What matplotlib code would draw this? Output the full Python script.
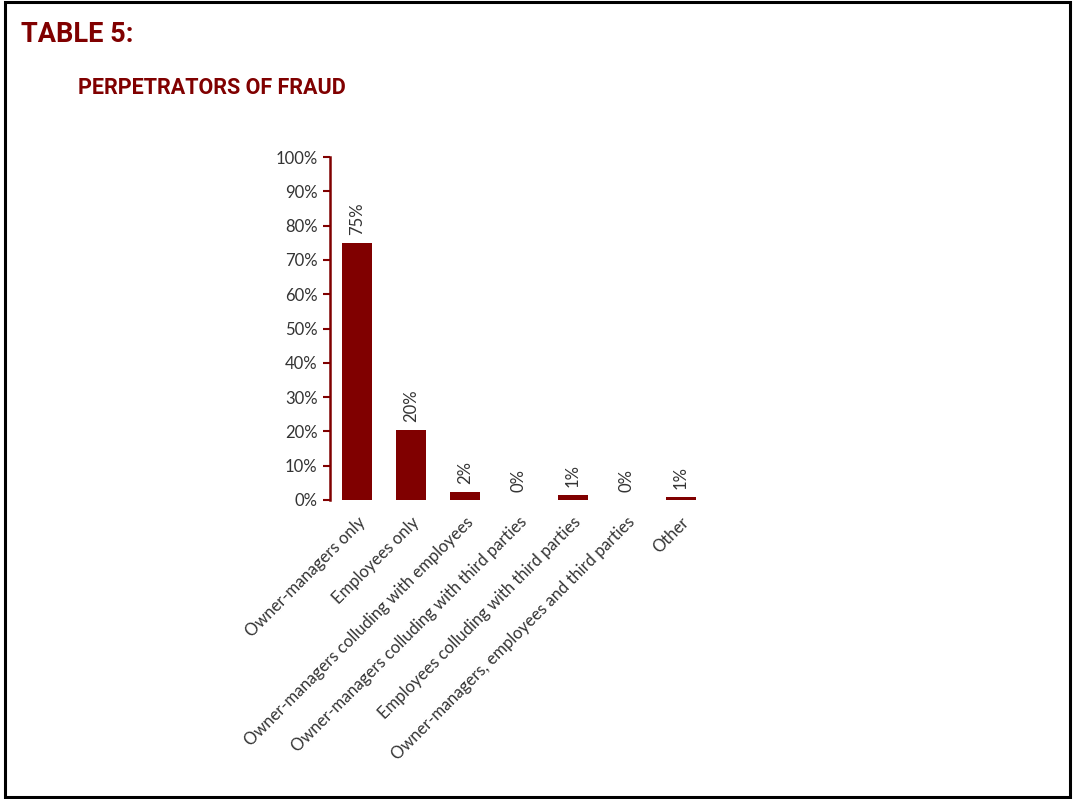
import numpy as np
import matplotlib
matplotlib.use('Agg')
from matplotlib import pyplot as plt
from matplotlib.patches import Rectangle

categories = [
    'Owner-managers only',
    'Employees only',
    'Owner-managers colluding with employees',
    'Owner-managers colluding with third parties',
    'Employees colluding with third parties',
    'Owner-managers, employees and third parties',
    'Other',
]
shares = [75.0, 20.3, 2.3, 0.0, 1.4, 0.0, 0.9]
y_ticks = list(range(0, 101, 10))

RED = '#800000'
GREY = '#333333'

plt.rcParams['font.family'] = ['Lato', 'DejaVu Sans']

fig = plt.figure(figsize=(10.75, 7.99), dpi=100)
fig.patch.set_facecolor('white')

# frame around the whole panel
fig.add_artist(Rectangle((0.0045, 0.0025), 0.9905, 0.9945, transform=fig.transFigure,
                         fill=False, edgecolor='black', linewidth=2.2))

head_font = ['Roboto', 'DejaVu Sans']
fig.text(21 / 1075, 1 - 34 / 799, 'TABLE 5:', color=RED, fontsize=19.5,
         fontweight='bold', family=head_font, va='center', ha='left')
fig.text(78 / 1075, 1 - 88 / 799, 'PERPETRATORS OF FRAUD', color=RED, fontsize=15.5,
         fontweight='bold', family=head_font, va='center', ha='left')

axes = fig.add_axes([330 / 1075, 1 - 500 / 799, 378 / 1075, 343 / 799])
x = np.arange(len(categories))
bars = axes.bar(x, shares, width=0.54, color=RED)

for xi, v in zip(x, shares):
    axes.text(xi, v + 2.3, '{:.0f}%'.format(v), rotation=90, ha='center', va='bottom',
              fontsize=12, color=GREY)

axes.set_xlim(-0.5, len(categories) - 0.5)
axes.set_ylim(0, 100)
axes.set_yticks(y_ticks)
axes.set_yticklabels(['{}%'.format(t) for t in y_ticks], fontsize=12, color=GREY)
axes.set_xticks(x)
axes.set_xticklabels(categories, rotation=45, ha='right', rotation_mode='anchor',
                     fontsize=12, color=GREY)
axes.tick_params(axis='x', length=0, pad=10)
axes.tick_params(axis='y', length=5, width=1.5, color=RED, pad=4)

for side in ['top', 'right', 'bottom']:
    axes.spines[side].set_visible(False)
axes.spines['left'].set_color(RED)
axes.spines['left'].set_linewidth(1.8)
axes.patch.set_alpha(0)

fig.savefig('out.png', dpi=100)
plt.close(fig)
